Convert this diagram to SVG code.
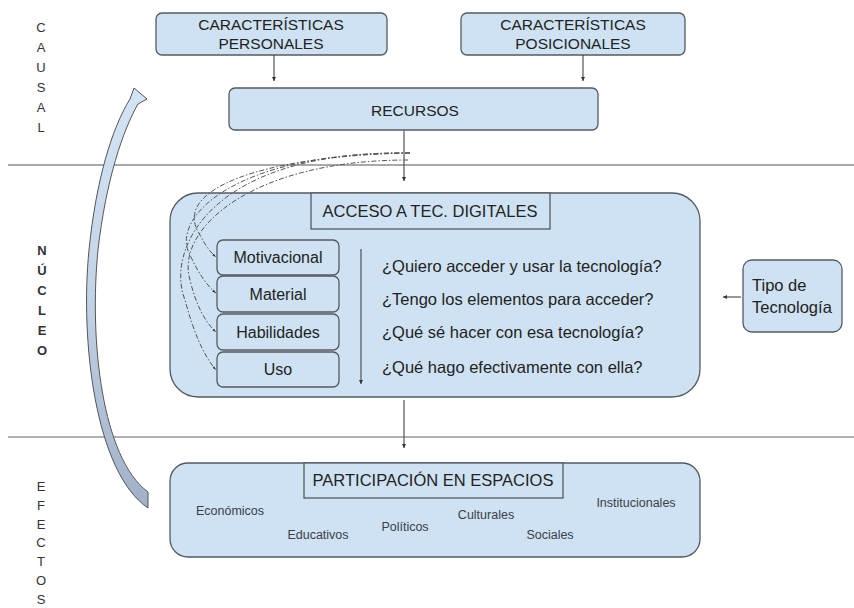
<svg xmlns="http://www.w3.org/2000/svg" width="854" height="608" viewBox="0 0 854 608">
<style>
.box{fill:#cfe2f3;stroke:#555a60;stroke-width:1.3}
.t{font-family:"Liberation Sans",Arial,sans-serif;fill:#222;text-anchor:middle}
.side{font-family:"Liberation Sans",Arial,sans-serif;fill:#333;font-size:13px;text-anchor:middle}
.sm{font-family:"Liberation Sans",Arial,sans-serif;fill:#3a3f4a;font-size:12.5px;text-anchor:middle}
.q{font-family:"Liberation Sans",Arial,sans-serif;fill:#222;font-size:16.5px}
.con{fill:none;stroke:#444;stroke-width:1.1}
.dash{fill:none;stroke:#555;stroke-width:1;stroke-dasharray:5 2 1.5 2}
</style>
<defs>
<marker id="ah" markerWidth="5" markerHeight="5" refX="4" refY="2.5" orient="auto" markerUnits="userSpaceOnUse">
<path d="M0,0.5 L4,2.5 L0,4.5 Z" fill="#333"/>
</marker>
<marker id="tick" markerWidth="5" markerHeight="4" refX="4" refY="2" orient="auto" markerUnits="userSpaceOnUse">
<path d="M0,0.8 L4,2 L0,3.2 Z" fill="#333"/>
</marker>
<linearGradient id="ag" x1="0" y1="0" x2="0" y2="1">
<stop offset="0" stop-color="#d3e5f5"/>
<stop offset="0.5" stop-color="#c2d3e6"/>
<stop offset="1" stop-color="#9fb0c8"/>
</linearGradient>
</defs>

<!-- section dividers -->
<line x1="8" y1="165" x2="854" y2="165" stroke="#555" stroke-width="1.2"/>
<line x1="8" y1="437" x2="854" y2="437" stroke="#b0b0b0" stroke-width="2"/>

<!-- side labels -->
<g id="label-causal">
<text class="side" x="41" y="32">C</text>
<text class="side" x="41" y="52">A</text>
<text class="side" x="41" y="72">U</text>
<text class="side" x="41" y="92">S</text>
<text class="side" x="41" y="112">A</text>
<text class="side" x="41" y="132">L</text>
</g>
<g id="label-nucleo">
<text class="side" x="42" y="255" font-weight="bold">N</text>
<text class="side" x="42" y="275" font-weight="bold">Ú</text>
<text class="side" x="42" y="295" font-weight="bold">C</text>
<text class="side" x="42" y="315" font-weight="bold">L</text>
<text class="side" x="42" y="335" font-weight="bold">E</text>
<text class="side" x="42" y="355" font-weight="bold">O</text>
</g>
<g id="label-efectos">
<text class="side" x="41" y="491">E</text>
<text class="side" x="41" y="510">F</text>
<text class="side" x="41" y="529">E</text>
<text class="side" x="41" y="547">C</text>
<text class="side" x="41" y="566">T</text>
<text class="side" x="41" y="585">O</text>
<text class="side" x="41" y="604">S</text>
</g>

<!-- feedback curved arrow -->
<g id="feedback-arrow">
<path d="M148,508 C95,472 80,340 89,250 C96,180 112,128 130,99 L134,88 L147,99 L138,104 C123,130 106,180 98,250 C89,340 102,458 148,492 Z" fill="url(#ag)" stroke="#555" stroke-width="1"/>
</g>

<g id="personales">
<rect class="box" x="156" y="13" width="231" height="42" rx="6"/>
<text class="t" x="271" y="30" font-size="15.5">CARACTERÍSTICAS</text>
<text class="t" x="271" y="48.5" font-size="15.5">PERSONALES</text>
</g>
<g id="posicionales">
<rect class="box" x="461" y="13" width="224" height="42" rx="6"/>
<text class="t" x="573" y="30" font-size="15.5">CARACTERÍSTICAS</text>
<text class="t" x="573" y="48.5" font-size="15.5">POSICIONALES</text>
</g>
<g id="recursos">
<rect class="box" x="229" y="88" width="369" height="42" rx="6"/>
<text class="t" x="415" y="116" font-size="15.5">RECURSOS</text>
</g>

<g id="acceso">
<rect class="box" x="170" y="193" width="530" height="204" rx="28"/>
<rect class="box" x="311" y="193" width="239" height="36"/>
<text class="t" x="430" y="217" font-size="16.5">ACCESO A TEC. DIGITALES</text>
<text class="q" x="382" y="272">¿Quiero acceder y usar la tecnología?</text>
<text class="q" x="382" y="305">¿Tengo los elementos para acceder?</text>
<text class="q" x="382" y="338">¿Qué sé hacer con esa tecnología?</text>
<text class="q" x="382" y="373">¿Qué hago efectivamente con ella?</text>
</g>
<g id="motivacional">
<rect class="box" x="217" y="240" width="122" height="35" rx="6"/>
<text class="t" x="278" y="263" font-size="16">Motivacional</text>
</g>
<g id="material">
<rect class="box" x="217" y="276" width="122" height="36" rx="6"/>
<text class="t" x="278" y="300" font-size="16">Material</text>
</g>
<g id="habilidades">
<rect class="box" x="217" y="314" width="122" height="36" rx="6"/>
<text class="t" x="278" y="338" font-size="16">Habilidades</text>
</g>
<g id="uso">
<rect class="box" x="217" y="352" width="122" height="35" rx="6"/>
<text class="t" x="278" y="375" font-size="16">Uso</text>
</g>

<g id="tipo">
<rect class="box" x="743" y="260" width="99" height="72" rx="9"/>
<text class="q" x="752" y="290.5" font-size="15.5">Tipo de</text>
<text class="q" x="752" y="312.5" font-size="15.5">Tecnología</text>
</g>

<g id="participacion">
<rect class="box" x="170" y="463" width="530" height="94" rx="18"/>
<rect class="box" x="304" y="463" width="259" height="35"/>
<text class="t" x="433" y="486" font-size="16.5">PARTICIPACIÓN EN ESPACIOS</text>
<text class="sm" x="230" y="514.5">Económicos</text>
<text class="sm" x="318" y="538.5">Educativos</text>
<text class="sm" x="405" y="530.5">Políticos</text>
<text class="sm" x="486" y="518.5">Culturales</text>
<text class="sm" x="550" y="538.5">Sociales</text>
<text class="sm" x="636" y="506.5">Institucionales</text>
</g>

<g id="connectors">
<line class="con" x1="274" y1="55" x2="274" y2="81" marker-end="url(#ah)"/>
<line class="con" x1="583" y1="55" x2="583" y2="81" marker-end="url(#ah)"/>
<line class="con" x1="404" y1="131" x2="404" y2="181" marker-end="url(#ah)"/>
<line class="con" x1="361" y1="249" x2="361" y2="384" marker-end="url(#ah)"/>
<line class="con" x1="404" y1="400" x2="404" y2="448" marker-end="url(#ah)"/>
<line class="con" x1="741" y1="297" x2="723" y2="297" marker-end="url(#ah)"/>
<path class="dash" d="M410,153 C260,156 170,190 200,235 C205,245 210,252 216,257" marker-end="url(#tick)"/>
<path class="dash" d="M410,153 C230,152 170,220 190,255 C198,272 206,285 216,293" marker-end="url(#tick)"/>
<path class="dash" d="M408,160 C250,160 175,230 190,280 C196,305 205,322 216,332" marker-end="url(#tick)"/>
<path class="dash" d="M410,153 C210,150 165,250 185,300 C193,330 203,355 216,370" marker-end="url(#tick)"/>
</g>
</svg>
